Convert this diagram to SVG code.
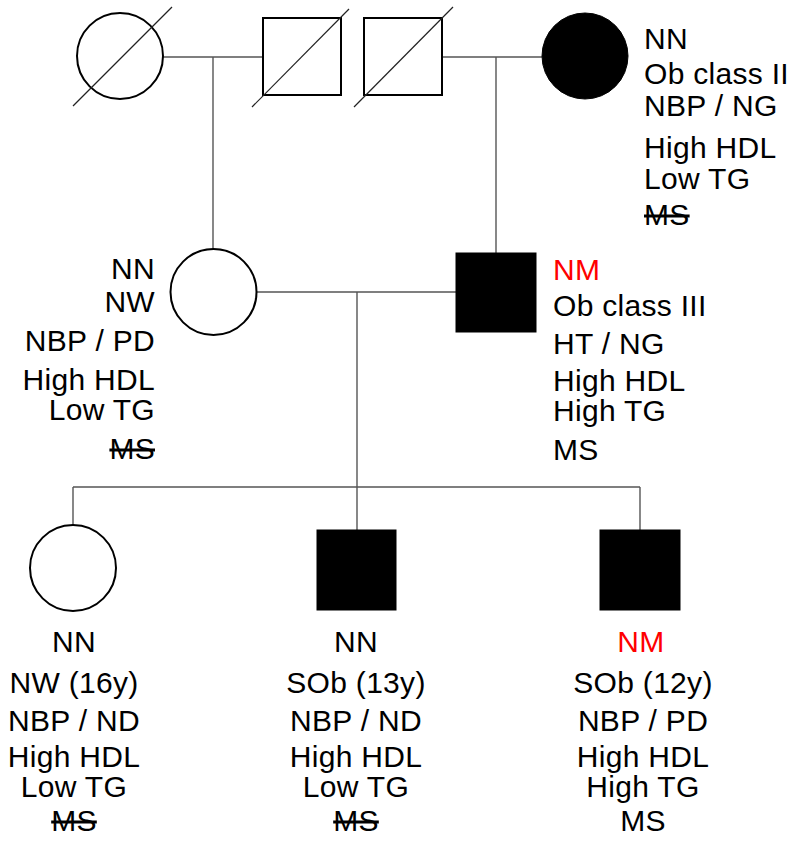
<svg xmlns="http://www.w3.org/2000/svg" width="794" height="842" viewBox="0 0 794 842">
<style>
text{font-family:"Liberation Sans",Arial,sans-serif;font-size:30px;letter-spacing:0.3px;fill:#000}
.red{fill:#ff0000}
.strike{text-decoration:line-through}
.end{text-anchor:end}
.mid{text-anchor:middle}
.shape{stroke:#000;stroke-width:2;fill:#fff}
.aff{stroke:#000;stroke-width:1;fill:#000}
.slash{stroke:#222;stroke-width:1.2}
.conn line{stroke:#555;stroke-width:1.4}
</style>
<rect width="794" height="842" fill="#fff"/>
<g id="connectors" class="conn">
<line x1="163" y1="57" x2="263" y2="57"/>
<line x1="213" y1="57" x2="213" y2="249"/>
<line x1="442" y1="57" x2="542" y2="57"/>
<line x1="496" y1="57" x2="496" y2="253"/>
<line x1="256" y1="292" x2="456" y2="292"/>
<line x1="357" y1="292" x2="357" y2="487"/>
<line x1="73" y1="487" x2="640" y2="487"/>
<line x1="73" y1="487" x2="73" y2="525"/>
<line x1="357" y1="487" x2="357" y2="530"/>
<line x1="640" y1="487" x2="640" y2="530"/>
</g>
<g id="gp1">
<circle class="shape" cx="120" cy="56" r="43"/>
<line class="slash" x1="73" y1="106" x2="172" y2="7"/>
</g>
<g id="gp2">
<rect class="shape" x="263" y="18" width="78" height="77"/>
<line class="slash" x1="252" y1="107" x2="349" y2="9"/>
</g>
<g id="gp3">
<rect class="shape" x="364" y="18" width="78" height="77"/>
<line class="slash" x1="354" y1="107" x2="453" y2="7"/>
</g>
<g id="gp4">
<circle class="aff" cx="585" cy="56" r="43"/>
<text x="644" y="49">NN</text>
<text x="644" y="84">Ob class II</text>
<text x="644" y="116">NBP / NG</text>
<text x="644" y="158">High HDL</text>
<text x="644" y="189">Low TG</text>
<text x="644" y="225" class="strike">MS</text>
</g>
<g id="mother">
<circle class="shape" cx="213.5" cy="292" r="43"/>
<text class="end" x="155" y="279">NN</text>
<text class="end" x="155" y="312">NW</text>
<text class="end" x="155" y="351">NBP / PD</text>
<text class="end" x="155" y="390">High HDL</text>
<text class="end" x="155" y="420">Low TG</text>
<text class="end strike" x="155" y="459">MS</text>
</g>
<g id="father">
<rect class="aff" x="456" y="253" width="80" height="79"/>
<text class="red" x="553" y="280">NM</text>
<text x="553" y="316">Ob class III</text>
<text x="553" y="354">HT / NG</text>
<text x="553" y="391">High HDL</text>
<text x="553" y="421">High TG</text>
<text x="553" y="460">MS</text>
</g>
<g id="child1">
<circle class="shape" cx="73" cy="568" r="43"/>
<text class="mid" x="74" y="652">NN</text>
<text class="mid" x="74" y="693">NW (16y)</text>
<text class="mid" x="74" y="731">NBP / ND</text>
<text class="mid" x="74" y="767">High HDL</text>
<text class="mid" x="74" y="797">Low TG</text>
<text class="mid strike" x="74" y="831">MS</text>
</g>
<g id="child2">
<rect class="aff" x="317" y="530" width="79" height="80"/>
<text class="mid" x="356" y="652">NN</text>
<text class="mid" x="356" y="693">SOb (13y)</text>
<text class="mid" x="356" y="731">NBP / ND</text>
<text class="mid" x="356" y="767">High HDL</text>
<text class="mid" x="356" y="797">Low TG</text>
<text class="mid strike" x="356" y="831">MS</text>
</g>
<g id="child3">
<rect class="aff" x="600" y="530" width="80" height="80"/>
<text class="mid red" x="641" y="652">NM</text>
<text class="mid" x="643" y="693">SOb (12y)</text>
<text class="mid" x="643" y="731">NBP / PD</text>
<text class="mid" x="643" y="767">High HDL</text>
<text class="mid" x="643" y="797">High TG</text>
<text class="mid" x="643" y="831">MS</text>
</g>
</svg>
